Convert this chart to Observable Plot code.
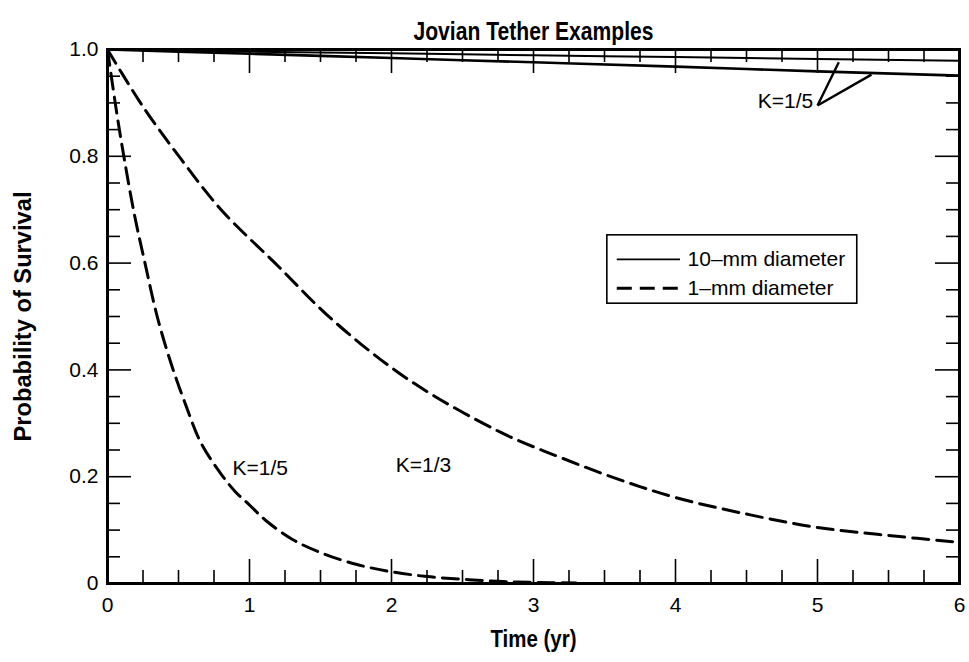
<!DOCTYPE html>
<html>
<head>
<meta charset="utf-8">
<script src="https://cdn.jsdelivr.net/npm/d3@7"></script>
<script src="https://cdn.jsdelivr.net/npm/@observablehq/plot@0.6"></script>
<style>
  html, body { margin: 0; padding: 0; background: #fff; }
  #chart { width: 969px; height: 662px; }
</style>
</head>
<body>
<div id="chart"></div>
<script>
// ---- Data ----
const title = "Jovian Tether Examples";
const xLabel = "Time (yr)";
const yLabel = "Probability of Survival";

const xTickValues = [0, 1, 2, 3, 4, 5, 6];
const yTickValues = [0, 0.2, 0.4, 0.6, 0.8, 1.0];

// 10-mm diameter (solid)
const solidUpperT = [0, 1, 2, 3, 4, 5, 6];
const solidUpperP = [1.0, 0.996, 0.993, 0.989, 0.986, 0.982, 0.979];
const solidLowerT = [0, 1, 2, 3, 4, 5, 6];
const solidLowerP = [1.0, 0.992, 0.984, 0.976, 0.968, 0.959, 0.951];

// 1-mm diameter (dashed)
const dashK5T = [0, 0.06, 0.115, 0.19, 0.264, 0.35, 0.45, 0.55, 0.655, 0.8, 0.9, 1.0, 1.115, 1.3, 1.5, 1.75, 2.0, 2.25, 2.5, 2.75, 3.0, 3.3];
const dashK5P = [1.0, 0.89, 0.8, 0.69, 0.6, 0.5, 0.41, 0.335, 0.265, 0.205, 0.172, 0.147, 0.118, 0.083, 0.058, 0.036, 0.022, 0.013, 0.008, 0.004, 0.002, 0.001];
const dashK3T = [0, 0.25, 0.517, 0.8, 1.18, 1.6, 2.13, 2.77, 3.19, 3.6, 4.0, 4.5, 5.0, 5.5, 6.0];
const dashK3P = [1.0, 0.893, 0.795, 0.70, 0.6, 0.49, 0.38, 0.283, 0.236, 0.195, 0.161, 0.13, 0.105, 0.09, 0.077];

// Legend entries
const legendLabels = ["10\u2013mm diameter", "1\u2013mm diameter"];

// Annotation labels
const annoUpper = {text: "K=1/5", t: 4.97, p: 0.903};
const annoLower = [
  {text: "K=1/5", t: 0.88, p: 0.215},
  {text: "K=1/3", t: 2.03, p: 0.222}
];
// Leader lines for upper K=1/5
const leaderT1 = [5.0, 5.0];
const leaderP1 = [0.895, 0.895];
const leaderT2 = [5.15, 5.38];
const leaderP2 = [0.976, 0.953];

// ---- Layout ----
const W = 969, H = 662;
const mL = 107, mR = 10, mT = 49, mB = 79;
const pxPerT = (W - mL - mR) / 6;
const pxPerP = (H - mT - mB) / 1;

const regFont = "'Liberation Sans', Arial, Helvetica, sans-serif";
const boldFont = "'Liberation Sans', Arial, Helvetica, sans-serif";

const toPts = (T, P) => T.map((t, i) => ({t, p: P[i]}));

// ticks
const xMinor = d3.range(0, 6.0001, 0.25).filter(v => Math.abs(v - Math.round(v)) > 1e-6);
const yMinor = d3.range(0, 1.0001, 0.05).map(v => +v.toFixed(2)).filter(v => Math.abs(v * 5 - Math.round(v * 5)) > 1e-6);
const majorLen = 24, minorLen = 13;
const xMajLen = majorLen / pxPerP, xMinLen = minorLen / pxPerP;
const yMajLen = majorLen / pxPerT, yMinLen = minorLen / pxPerT;

const tickStroke = {stroke: "#000", strokeWidth: 1.6};

// legend geometry in data units
const lgX1 = 3.52, lgX2 = 5.28, lgY1 = 0.524, lgY2 = 0.652;
const lgRowsP = [0.607, 0.553];
const lgSampleX1 = 3.59, lgSampleX2 = 4.035, lgTextX = 4.085;

const marks = [
  // ticks bottom & top
  Plot.ruleX(xTickValues, {x: d => d, y1: 0, y2: xMajLen, ...tickStroke}),
  Plot.ruleX(xMinor, {x: d => d, y1: 0, y2: xMinLen, ...tickStroke}),
  Plot.ruleX(xTickValues, {x: d => d, y1: 1, y2: 1 - xMajLen, ...tickStroke}),
  Plot.ruleX(xMinor, {x: d => d, y1: 1, y2: 1 - xMinLen, ...tickStroke}),
  // ticks left & right
  Plot.ruleY(yTickValues, {y: d => d, x1: 0, x2: yMajLen, ...tickStroke}),
  Plot.ruleY(yMinor, {y: d => d, x1: 0, x2: yMinLen, ...tickStroke}),
  Plot.ruleY(yTickValues, {y: d => d, x1: 6, x2: 6 - yMajLen, ...tickStroke}),
  Plot.ruleY(yMinor, {y: d => d, x1: 6, x2: 6 - yMinLen, ...tickStroke}),

  // curves
  Plot.line(toPts(solidUpperT, solidUpperP), {x: "t", y: "p", curve: "monotone-x", stroke: "#000", strokeWidth: 2}),
  Plot.line(toPts(solidLowerT, solidLowerP), {x: "t", y: "p", curve: "monotone-x", stroke: "#000", strokeWidth: 2.6}),
  Plot.line(toPts(dashK3T, dashK3P), {x: "t", y: "p", curve: "catmull-rom", stroke: "#000", strokeWidth: 3, strokeDasharray: "16,8"}),
  Plot.line(toPts(dashK5T, dashK5P), {x: "t", y: "p", curve: "catmull-rom", stroke: "#000", strokeWidth: 3, strokeDasharray: "16,8"}),

  // frame
  Plot.frame({stroke: "#000", strokeWidth: 3}),

  // tick labels
  Plot.text(xTickValues, {x: d => d, frameAnchor: "bottom", dy: 28, textAnchor: "middle", text: d => String(d), fontSize: 21, fontFamily: regFont, fill: "#000"}),
  Plot.text(yTickValues, {y: d => d, frameAnchor: "left", dx: -9, textAnchor: "end", text: d => d === 0 ? "0" : d.toFixed(1), fontSize: 21, fontFamily: regFont, fill: "#000"}),

  // axis titles & chart title
  Plot.text([xLabel], {frameAnchor: "bottom", dy: 63, textAnchor: "middle", text: d => d, fontSize: 24, fontWeight: "bold", fontFamily: boldFont, fill: "#000", className: "cond-x"}),
  Plot.text([yLabel], {frameAnchor: "left", dx: -84, rotate: -90, textAnchor: "middle", text: d => d, fontSize: 24, fontWeight: "bold", fontFamily: boldFont, fill: "#000", className: "cond-y"}),
  Plot.text([title], {frameAnchor: "top", dy: -27, textAnchor: "middle", text: d => d, fontSize: 25, fontWeight: "bold", fontFamily: boldFont, fill: "#000", className: "cond-t"}),

  // legend
  Plot.rect([0], {x1: lgX1, x2: lgX2, y1: lgY1, y2: lgY2, fill: "#fff", stroke: "#000", strokeWidth: 1.6}),
  Plot.ruleY([lgRowsP[0]], {x1: lgSampleX1, x2: lgSampleX2, stroke: "#000", strokeWidth: 1.6}),
  Plot.ruleY([lgRowsP[1]], {x1: lgSampleX1, x2: lgSampleX2, stroke: "#000", strokeWidth: 3, strokeDasharray: "15,8"}),
  Plot.text([0, 1], {x: lgTextX, y: i => lgRowsP[i], text: i => legendLabels[i], textAnchor: "start", fontSize: 21, fontFamily: regFont, fill: "#000"}),

  // annotations
  Plot.link([0, 1], {x1: i => leaderT1[i], y1: i => leaderP1[i], x2: i => leaderT2[i], y2: i => leaderP2[i], stroke: "#000", strokeWidth: 2.4}),
  Plot.text([annoUpper], {x: "t", y: "p", text: "text", textAnchor: "end", fontSize: 21, fontFamily: regFont, fill: "#000"}),
  Plot.text(annoLower, {x: "t", y: "p", text: "text", textAnchor: "start", fontSize: 21, fontFamily: regFont, fill: "#000"})
];

const chart = Plot.plot({
  width: W,
  height: H,
  marginLeft: mL,
  marginRight: mR,
  marginTop: mT,
  marginBottom: mB,
  x: {domain: [0, 6], axis: null},
  y: {domain: [0, 1], axis: null},
  style: {background: "#fff", color: "#000"},
  marks
});
document.getElementById("chart").appendChild(chart);

// condensed look for bold titles (compress glyph widths)
const condense = (cls, len) => {
  d3.select(chart).selectAll("g." + cls + " text")
    .attr("textLength", len).attr("lengthAdjust", "spacingAndGlyphs");
};
condense("cond-t", 240);
condense("cond-y", 250);
condense("cond-x", 86);
</script>
</body>
</html>
